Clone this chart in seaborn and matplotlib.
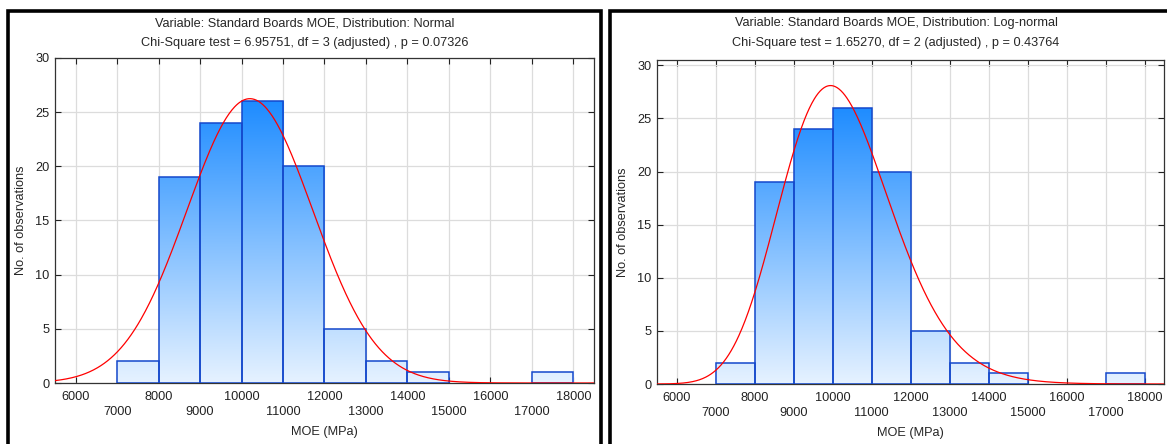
import numpy as np
import matplotlib
matplotlib.use("Agg")
import matplotlib.pyplot as plt
import seaborn as sns
from matplotlib.patches import Rectangle
from matplotlib.colors import LinearSegmentedColormap

# Histogram of board stiffness (MOE, MPa), 1000 MPa classes
bin_left = [7000, 8000, 9000, 10000, 11000, 12000, 13000, 14000, 15000, 16000, 17000]
counts = [2, 19, 24, 26, 20, 5, 2, 1, 0, 0, 1]
bin_width = 1000
n_obs = 100

# Fitted distribution parameters
normal_mean, normal_sd = 10200.0, 1520.0
lognorm_mu, lognorm_sigma = 9.2253, 0.1413

x_ticks = list(range(6000, 18001, 1000))
y_ticks = [0, 5, 10, 15, 20, 25, 30]

panels = [
    dict(title1="Variable: Standard Boards MOE, Distribution: Normal",
         title2="Chi-Square test = 6.95751, df = 3 (adjusted) , p = 0.07326",
         dist="normal"),
    dict(title1="Variable: Standard Boards MOE, Distribution: Log-normal",
         title2="Chi-Square test = 1.65270, df = 2 (adjusted) , p = 0.43764",
         dist="lognormal"),
]

sns.set_theme(style="white")
plt.rcParams["font.family"] = ["Liberation Sans", "DejaVu Sans"]
FS = 9.2

W, H = 1167, 444
fig = plt.figure(figsize=(W / 100, H / 100), dpi=100)

ax_boxes = [
    (55, 58, 594, 383, 30.0),
    (657, 60, 1164, 384, 30.5),
]
panel_boxes = [(8, 11, 601), (610, 11, 1200)]
title_centers = [304.5, 896]

cmap = LinearSegmentedColormap.from_list("bars", ["#e6f2ff", "#1e8cff"])
edges = bin_left + [bin_left[-1] + bin_width]
centers = [b + bin_width / 2 for b in bin_left]
xs = np.linspace(5500, 18500, 800)

for i, p in enumerate(panels):
    x0, y0, x1, y1, ytop = ax_boxes[i]
    ax = fig.add_axes([x0 / W, (H - y1) / H, (x1 - x0) / W, (y1 - y0) / H])

    sns.histplot(x=centers, weights=counts, bins=edges, ax=ax, stat="count",
                 facecolor="none", edgecolor="#1448cc", linewidth=1.1, zorder=3)
    grad = np.linspace(0, 1, 256).reshape(-1, 1)
    for patch in list(ax.patches):
        if patch.get_height() <= 0:
            patch.set_visible(False)
            continue
        im = ax.imshow(grad, extent=[5500, 18500, 0, max(counts)], origin="lower",
                       aspect="auto", cmap=cmap, zorder=2, interpolation="bilinear")
        im.set_clip_path(patch)

    if p["dist"] == "normal":
        pdf = np.exp(-0.5 * ((xs - normal_mean) / normal_sd) ** 2) / (normal_sd * np.sqrt(2 * np.pi))
    else:
        pdf = np.exp(-0.5 * ((np.log(xs) - lognorm_mu) / lognorm_sigma) ** 2) / (
            xs * lognorm_sigma * np.sqrt(2 * np.pi))
    sns.lineplot(x=xs, y=pdf * n_obs * bin_width, ax=ax, color="#ff0000", linewidth=0.9, zorder=4)

    ax.set_xlim(5500, 18500)
    ax.set_ylim(0, ytop)
    ax.set_xticks(x_ticks)
    ax.set_xticklabels([str(t) if (t // 1000) % 2 == 0 else "\n" + str(t) for t in x_ticks],
                       fontsize=FS, linespacing=1.25)
    ax.set_yticks(y_ticks)
    ax.set_yticklabels([str(t) for t in y_ticks], fontsize=FS)
    ax.grid(True, color="#dcdcdc", linewidth=0.9, zorder=0)
    ax.set_axisbelow(True)
    ax.tick_params(direction="in", length=4, width=0.8, top=True, right=True,
                   bottom=True, left=True, pad=4, colors="#222222")
    ax.tick_params(axis="x", pad=6)
    for s in ax.spines.values():
        s.set_color("#333333")
        s.set_linewidth(0.9)
    ax.set_xlabel("MOE (MPa)", fontsize=FS, labelpad=6)
    ax.set_ylabel("No. of observations", fontsize=FS, labelpad=6)

    bx0, by0, bx1 = panel_boxes[i]
    fig.add_artist(Rectangle((bx0 / W, -0.05), (bx1 - bx0) / W, (H - by0) / H + 0.05,
                             transform=fig.transFigure, fill=False, edgecolor="black",
                             linewidth=2.6, clip_on=False))
    fig.text(title_centers[i] / W, (H - 23) / H, p["title1"], ha="center", va="center", fontsize=FS)
    fig.text(title_centers[i] / W, (H - 43) / H, p["title2"], ha="center", va="center", fontsize=FS)

fig.savefig("out.png", dpi=100)
